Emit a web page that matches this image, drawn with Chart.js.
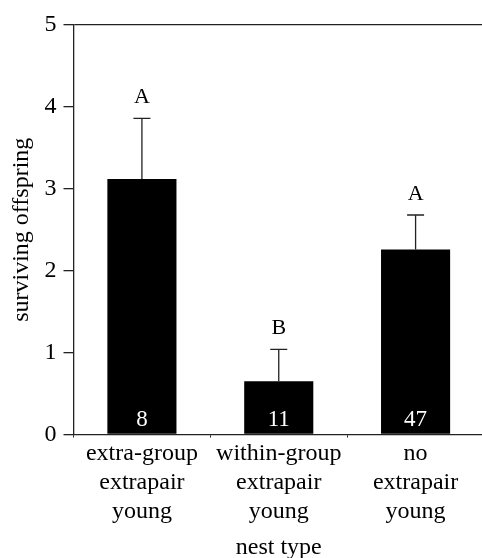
<!DOCTYPE html>
<html lang="en">
<head>
  <meta charset="UTF-8" />
  <title>Surviving offspring by nest type</title>
  <script src="https://cdn.jsdelivr.net/npm/chart.js"></script>
  <style>
    html, body {
      margin: 0;
      padding: 0;
      background: #ffffff;
      overflow: hidden;
    }
    #wrap {
      width: 484px;
      height: 558px;
    }
  </style>
</head>
<body>
  <div id="wrap">
    <canvas id="offspringChart" width="484" height="558"></canvas>
  </div>

  <script>
    // values
    const nestTypes = [
      ["extra-group", "extrapair", "young"],
      ["within-group", "extrapair", "young"],
      ["no", "extrapair", "young"]
    ];
    const meanOffspring = [3.12, 0.65, 2.26];
    const errorUp = [0.74, 0.39, 0.42];
    const groupLetters = ["A", "B", "A"];
    const sampleSizes = [8, 11, 47];
    const yTicks = [0, 1, 2, 3, 4, 5];

    const serif = "'Liberation Serif', 'DejaVu Serif', serif";
    Chart.defaults.font.family = serif;
    Chart.defaults.color = "#000";

    // error bars, letters above them, n inside the bars
    const annotations = {
      id: "annotations",
      afterDatasetsDraw(chart) {
        const { ctx, scales: { x, y } } = chart;
        ctx.save();
        meanOffspring.forEach((m, i) => {
          const cx = x.getPixelForValue(i);
          const yBar = y.getPixelForValue(m);
          const yTop = y.getPixelForValue(m + errorUp[i]);

          ctx.strokeStyle = "#222";
          ctx.lineWidth = 1.3;
          ctx.beginPath();
          ctx.moveTo(cx, yBar);
          ctx.lineTo(cx, yTop);
          ctx.moveTo(cx - 8.5, yTop);
          ctx.lineTo(cx + 8.5, yTop);
          ctx.stroke();

          ctx.fillStyle = "#000";
          ctx.textAlign = "center";
          ctx.textBaseline = "middle";
          ctx.font = "22px " + serif;
          ctx.fillText(groupLetters[i], cx, yTop - 21);

          ctx.fillStyle = "#fff";
          ctx.font = "23px " + serif;
          ctx.fillText(String(sampleSizes[i]), cx, y.getPixelForValue(0) - 15);
        });
        ctx.restore();
      }
    };

    new Chart(document.getElementById("offspringChart"), {
      type: "bar",
      data: {
        labels: nestTypes,
        datasets: [{
          data: meanOffspring,
          backgroundColor: "#000",
          categoryPercentage: 1,
          barPercentage: 0.505
        }]
      },
      options: {
        responsive: false,
        animation: false,
        layout: { padding: { top: 25, right: 0, left: 0, bottom: 0 } },
        plugins: {
          legend: { display: false },
          tooltip: { enabled: false }
        },
        scales: {
          x: {
            grid: {
              offset: true,
              drawOnChartArea: false,
              drawTicks: true,
              tickLength: 3,
              color: "#222"
            },
            border: { color: "#222", width: 1.3 },
            ticks: {
              font: { size: 24, lineHeight: 1.21 },
              padding: 2,
              maxRotation: 0,
              autoSkip: false
            },
            title: {
              display: true,
              text: "nest type",
              font: { size: 24, lineHeight: 1 },
              padding: { top: 0, bottom: -2 }
            },
            afterFit(scale) { scale.height = 123.5; }
          },
          y: {
            min: 0,
            max: 5,
            afterBuildTicks(scale) {
              scale.ticks = yTicks.map(v => ({ value: v }));
            },
            grid: {
              color: ctx => (ctx.tick && ctx.tick.value === 5 ? "#222" : "rgba(0,0,0,0)"),
              tickColor: "#222",
              lineWidth: 1.3,
              tickLength: 10,
              drawTicks: true
            },
            border: { color: "#222", width: 1.3 },
            ticks: {
              font: { size: 24 },
              padding: 7
            },
            title: {
              display: true,
              text: "surviving offspring",
              font: { size: 24, lineHeight: 1.2 },
              padding: { top: 7, bottom: 0 }
            },
            afterFit(scale) { scale.width = 73.5; }
          }
        }
      },
      plugins: [annotations]
    });
  </script>
</body>
</html>
